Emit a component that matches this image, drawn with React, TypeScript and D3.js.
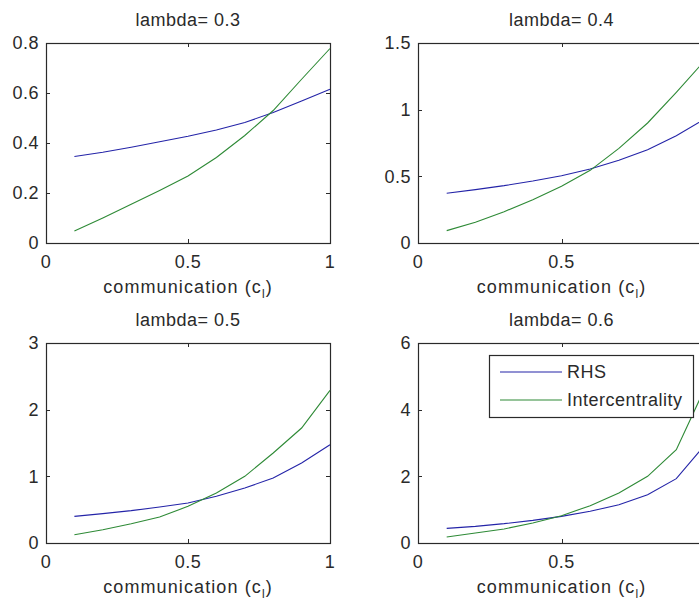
import React, { useEffect, useRef } from 'react';
import * as d3 from 'd3';

// communication values c_l on the x axis
const commValues = [0.1, 0.2, 0.3, 0.4, 0.5, 0.6, 0.7, 0.8, 0.9, 1.0];

const lambdaLabels = ['0.3', '0.4', '0.5', '0.6'];

// RHS curves, one per lambda
const rhs03 = [0.346, 0.363, 0.383, 0.405, 0.427, 0.452, 0.482, 0.522, 0.568, 0.615];
const rhs04 = [0.373, 0.4, 0.43, 0.465, 0.505, 0.555, 0.62, 0.7, 0.805, 0.93];
const rhs05 = [0.4, 0.44, 0.485, 0.54, 0.6, 0.7, 0.825, 0.975, 1.2, 1.475];
const rhs06 = [0.44, 0.5, 0.58, 0.68, 0.8, 0.95, 1.15, 1.45, 1.93, 2.95];

// Intercentrality curves
const inter03 = [0.048, 0.1, 0.155, 0.21, 0.268, 0.342, 0.43, 0.53, 0.655, 0.778];
const inter04 = [0.093, 0.155, 0.235, 0.325, 0.425, 0.545, 0.71, 0.9, 1.13, 1.37];
const inter05 = [0.125, 0.2, 0.29, 0.39, 0.55, 0.75, 1.0, 1.35, 1.725, 2.29];
const inter06 = [0.18, 0.3, 0.42, 0.6, 0.82, 1.12, 1.5, 2.0, 2.8, 4.65];

const xTicks = [0, 0.5, 1];
const yTicks03 = [0, 0.2, 0.4, 0.6, 0.8];
const yTicks04 = [0, 0.5, 1, 1.5];
const yTicks05 = [0, 1, 2, 3];
const yTicks06 = [0, 2, 4, 6];

const seriesNames = ['RHS', 'Intercentrality'];

const BLUE = '#2424a8';
const GREEN = '#2e8a36';
const INK = '#2a2a2a';
const FONT = '"Liberation Sans", Arial, sans-serif';
const VIEW_W = 699;

export default function App() {
  const ref = useRef<SVGSVGElement>(null);

  useEffect(() => {
    const svg = d3.select(ref.current);
    svg.selectAll('*').remove();

    // right column runs past the window edge, like the original screenshot
    const panels = [
      { rhs: rhs03, inter: inter03, yTicks: yTicks03, left: 46, top: 43, w: 284 },
      { rhs: rhs04, inter: inter04, yTicks: yTicks04, left: 418, top: 43, w: 287 },
      { rhs: rhs05, inter: inter05, yTicks: yTicks05, left: 46, top: 343, w: 284 },
      { rhs: rhs06, inter: inter06, yTicks: yTicks06, left: 418, top: 343, w: 287 },
    ];
    const h = 200;

    panels.forEach((p, i) => {
      const w = p.w;
      const x = d3.scaleLinear().domain([0, 1]).range([p.left, p.left + w]);
      const yMax = p.yTicks[p.yTicks.length - 1];
      const y = d3.scaleLinear().domain([0, yMax]).range([p.top + h, p.top]);

      const g = svg.append('g').style('font-family', FONT);

      // box
      g.append('rect')
        .attr('x', p.left + 0.5).attr('y', p.top + 0.5)
        .attr('width', w).attr('height', h)
        .attr('fill', 'white').attr('stroke', INK).attr('stroke-width', 1.2);

      // inner ticks, all four sides
      p.yTicks.forEach(t => {
        const yy = Math.round(y(t)) + 0.5;
        g.append('line').attr('x1', p.left).attr('x2', p.left + 4).attr('y1', yy).attr('y2', yy).attr('stroke', INK);
        g.append('line').attr('x1', p.left + w - 4).attr('x2', p.left + w).attr('y1', yy).attr('y2', yy).attr('stroke', INK);
        g.append('text')
          .attr('x', p.left - 7).attr('y', y(t)).attr('dy', '0.36em')
          .attr('text-anchor', 'end').attr('font-size', 18).attr('letter-spacing', 0.5).attr('fill', INK)
          .text(String(t));
      });
      xTicks.forEach(t => {
        const xx = Math.round(x(t)) + 0.5;
        g.append('line').attr('x1', xx).attr('x2', xx).attr('y1', p.top + h).attr('y2', p.top + h - 4).attr('stroke', INK);
        g.append('line').attr('x1', xx).attr('x2', xx).attr('y1', p.top).attr('y2', p.top + 4).attr('stroke', INK);
        // labels past the window edge are not visible in the original
        if (x(t) + 4 > VIEW_W) return;
        g.append('text')
          .attr('x', x(t)).attr('y', p.top + h + 25)
          .attr('text-anchor', 'middle').attr('font-size', 18).attr('letter-spacing', 0.5).attr('fill', INK)
          .text(String(t));
      });

      // curves
      const line = d3.line<number>()
        .x((d, k) => x(commValues[k]))
        .y(d => y(d));
      g.append('path').attr('d', line(p.rhs)).attr('fill', 'none').attr('stroke', BLUE).attr('stroke-width', 1.1);
      g.append('path').attr('d', line(p.inter)).attr('fill', 'none').attr('stroke', GREEN).attr('stroke-width', 1.1);

      // title
      g.append('text')
        .attr('x', p.left + w / 2).attr('y', p.top - 17)
        .attr('text-anchor', 'middle').attr('font-size', 18).attr('letter-spacing', 0.5).attr('fill', INK)
        .text('lambda= ' + lambdaLabels[i]);

      // x label with subscript
      const xl = g.append('text')
        .attr('x', p.left + w / 2).attr('y', p.top + h + 50)
        .attr('text-anchor', 'middle').attr('font-size', 18).attr('letter-spacing', 1.1).attr('fill', INK);
      xl.append('tspan').text('communication (c');
      xl.append('tspan').attr('font-size', 12).attr('dy', 5).text('l');
      xl.append('tspan').attr('dy', -5).text(')');

      // legend in the last panel
      if (i === 3) {
        const lx = p.left + 71, ly = p.top + 12;
        const lg = g.append('g');
        lg.append('rect').attr('x', lx + 0.5).attr('y', ly + 0.5).attr('width', 204).attr('height', 62)
          .attr('fill', 'white').attr('stroke', INK).attr('stroke-width', 1.2);
        [BLUE, GREEN].forEach((c, k) => {
          const yy = ly + 17 + k * 28;
          lg.append('line').attr('x1', lx + 11).attr('x2', lx + 73).attr('y1', yy).attr('y2', yy)
            .attr('stroke', c).attr('stroke-width', 1.1);
          lg.append('text').attr('x', lx + 78).attr('y', yy).attr('dy', '0.36em')
            .attr('font-size', 18).attr('letter-spacing', 0.5).attr('fill', INK)
            .text(seriesNames[k]);
        });
      }
    });
  }, []);

  return (
    <svg ref={ref} width={VIEW_W} height={603}
      style={{ position: 'absolute', left: 0, top: 0, background: 'white', overflow: 'hidden' }} />
  );
}
